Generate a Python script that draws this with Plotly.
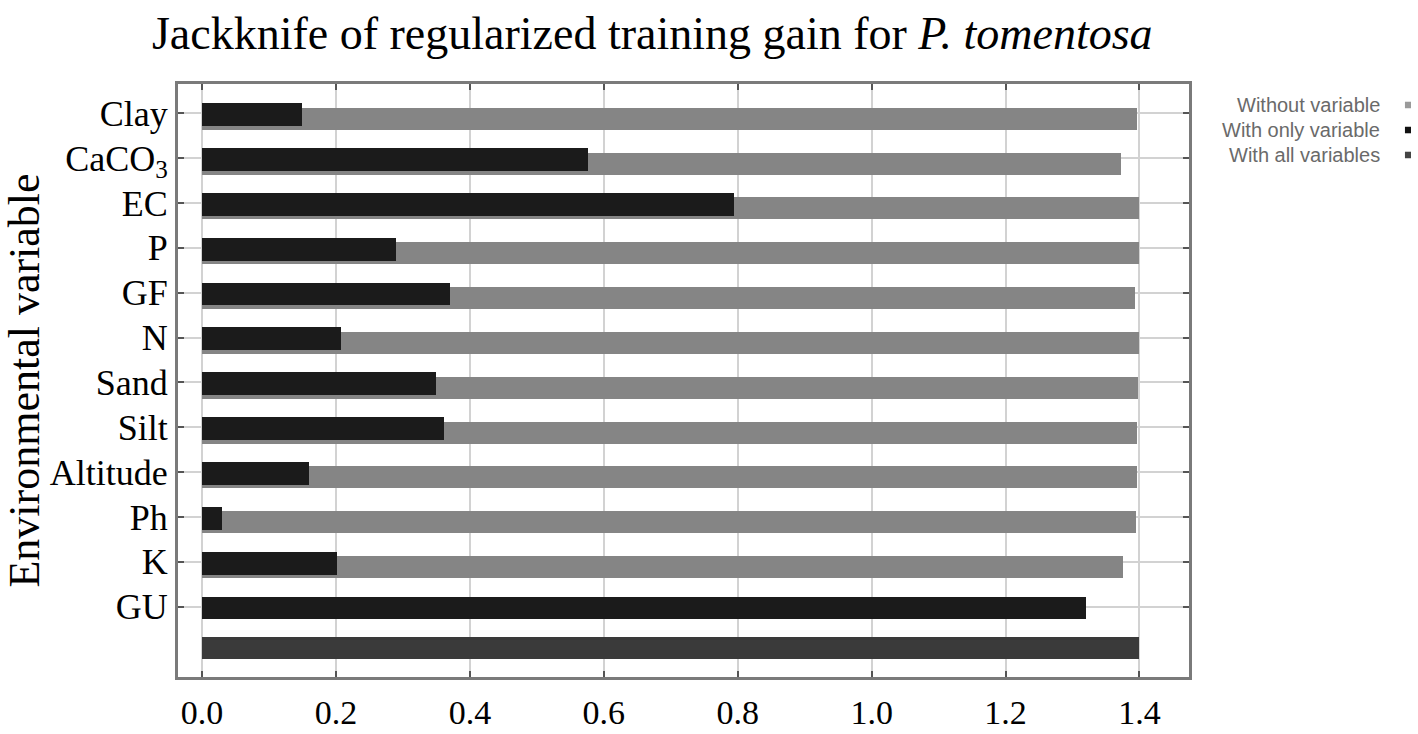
import plotly.graph_objects as go

# ---- data ----
variables = ["Clay", "CaCO<sub>3</sub>", "EC", "P", "GF", "N", "Sand", "Silt",
             "Altitude", "Ph", "K", "GU"]
without_variable = [1.396, 1.373, 1.400, 1.399, 1.394, 1.400, 1.398, 1.396,
                    1.397, 1.395, 1.376, None]
with_only_variable = [0.149, 0.576, 0.794, 0.290, 0.370, 0.207, 0.349, 0.361,
                      0.159, 0.030, 0.202, 1.320]
with_all_variables = [1.400]
legend_labels = ["Without variable", "With only variable", "With all variables"]
x_ticks = [0.0, 0.2, 0.4, 0.6, 0.8, 1.0, 1.2, 1.4]
x_tick_labels = ["0.0", "0.2", "0.4", "0.6", "0.8", "1.0", "1.2", "1.4"]

C_WITHOUT = "#858585"
C_ONLY = "#1b1b1b"
C_ALL = "#3a3a3a"
SERIF = "Liberation Serif, Times New Roman, serif"

pos = list(range(len(variables)))

fig = go.Figure()
fig.add_trace(go.Bar(orientation="h", y=pos, x=without_variable, width=0.49,
                     offset=-0.125, marker=dict(color=C_WITHOUT, line=dict(width=0)),
                     name=legend_labels[0]))
fig.add_trace(go.Bar(orientation="h", y=pos, x=with_only_variable, width=0.51,
                     offset=-0.225, marker=dict(color=C_ONLY, line=dict(width=0)),
                     name=legend_labels[1]))
fig.add_trace(go.Bar(orientation="h", y=[len(variables)], x=with_all_variables,
                     width=0.49, offset=-0.33,
                     marker=dict(color=C_ALL, line=dict(width=0)),
                     name=legend_labels[2]))

# legend drawn to the right: text right-aligned, small square after it
leg_colors = ["#9a9a9a", "#111111", "#444444"]
leg_y = [0.9646, 0.9224, 0.8803]
for lab, col, yy in zip(legend_labels, leg_colors, leg_y):
    fig.add_annotation(x=1.191, y=yy, xref="paper", yref="paper", text=lab,
                       showarrow=False, xanchor="right", yanchor="middle",
                       font=dict(family="Liberation Sans, Arial, sans-serif",
                                 size=20, color="#6a6a6a"))
    fig.add_shape(type="rect", xref="paper", yref="paper",
                  x0=1.2136, x1=1.2196, y0=yy - 0.0055, y1=yy + 0.0055,
                  fillcolor=col, line=dict(width=0))

fig.update_layout(
    width=1418, height=734,
    margin=dict(l=178, r=229, t=84, b=57),
    paper_bgcolor="white", plot_bgcolor="white",
    barmode="overlay", bargap=0, showlegend=False,
    title=dict(text="Jackknife of regularized training gain for <i>P. tomentosa</i>",
               x=0.46, xanchor="center", y=0.955, yanchor="middle",
               automargin=False,
               font=dict(family=SERIF, size=46, color="black")),
)
fig.update_xaxes(
    range=[-0.036, 1.474], tickvals=x_ticks, ticktext=x_tick_labels,
    automargin=False,
    showgrid=True, gridcolor="#d2d2d2", gridwidth=2, zeroline=False,
    showline=True, linecolor="#7a7a7a", linewidth=3, mirror="ticks",
    ticks="inside", ticklen=6, tickwidth=2, tickcolor="#555555",
    ticklabelstandoff=3,
    tickfont=dict(family=SERIF, size=34, color="black"),
)
fig.update_yaxes(
    range=[12.57, -0.653], tickvals=pos, ticktext=variables,
    automargin=False,
    showgrid=True, gridcolor="#d2d2d2", gridwidth=2, zeroline=False,
    showline=True, linecolor="#7a7a7a", linewidth=3, mirror="ticks",
    ticks="inside", ticklen=6, tickwidth=2, tickcolor="#555555",
    ticklabelstandoff=0,
    tickfont=dict(family=SERIF, size=36, color="black"),
    title=dict(text="Environmental variable", standoff=14,
               font=dict(family=SERIF, size=44, color="black")),
)

fig.write_html("out.html", config={"displayModeBar": False},
               post_script="document.body.style.margin='0';"
                           "document.body.style.overflow='hidden';")
